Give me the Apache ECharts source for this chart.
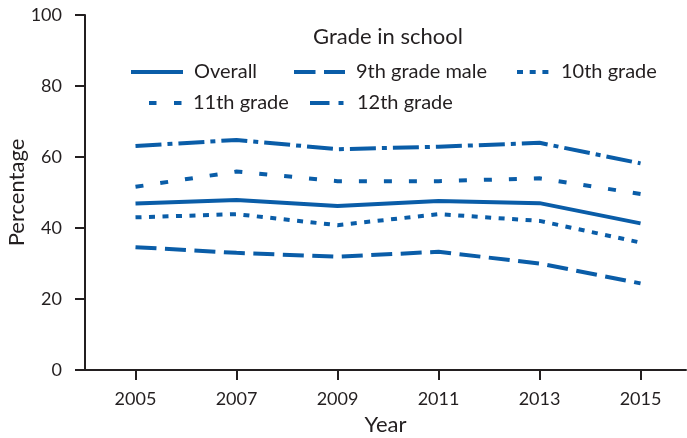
<!DOCTYPE html>
<html><head><meta charset="utf-8">
<script src="https://cdn.jsdelivr.net/npm/echarts@6/dist/echarts.min.js"></script>
<style>html,body{margin:0;padding:0;background:#fff}#c{width:687px;height:438px}</style>
</head><body><div id="c"></div>
<script>
const years = [2005, 2007, 2009, 2011, 2013, 2015];
const yTicks = [0, 20, 40, 60, 80, 100];
const seriesNames = ['Overall', '9th grade male', '10th grade', '11th grade', '12th grade'];
const overall = [46.9, 47.9, 46.2, 47.6, 47.0, 41.3];
const grade9male = [34.6, 33.0, 31.9, 33.3, 30.0, 24.4];
const grade10 = [43.0, 43.9, 40.8, 43.9, 42.0, 35.9];
const grade11 = [51.6, 55.9, 53.2, 53.2, 54.0, 49.6];
const grade12 = [63.1, 64.8, 62.2, 62.9, 64.0, 58.2];

const BLUE = '#0a5da8';
const INK = '#231f20';
const FONT = 'Lato';
const values = [overall, grade9male, grade10, grade11, grade12];
const dashes = ['solid', [21, 8.5], [6, 7.5], [8, 17], [26, 6, 5, 6]];
const legendDashes = ['solid', [21.5, 8.5], [6, 6.7], [7.5, 17.5], [19.5, 9, 5, 9]];

const series = seriesNames.map((n, i) => ({
  name: n, type: 'line', symbol: 'none', showSymbol: false,
  data: years.map((y, j) => [y, values[i][j]]),
  lineStyle: { color: BLUE, width: 4, type: dashes[i], cap: 'butt' },
  itemStyle: { color: BLUE },
  emphasis: { disabled: true }, animation: false
}));

const legPos = [
  { left: 129, top: 62, w: 52, pad: 6 },
  { left: 292, top: 62, w: 51, pad: 6 },
  { left: 515, top: 62, w: 32, pad: 7 },
  { left: 147, top: 93, w: 33, pad: 6 },
  { left: 308, top: 93, w: 34, pad: 8 }
];
const legends = seriesNames.map((n, i) => ({
  data: [n], left: legPos[i].left, top: legPos[i].top, padding: 0,
  itemWidth: legPos[i].w, itemHeight: 20, selectedMode: false,
  itemStyle: { opacity: 0 },
  lineStyle: { color: BLUE, width: 4, type: legendDashes[i], cap: 'butt' },
  textStyle: { fontFamily: FONT, fontSize: 20, color: INK, padding: [0, 0, 0, legPos[i].pad] }
}));

const chart = echarts.init(document.getElementById('c'));
chart.setOption({
  animation: false,
  title: { text: 'Grade in school', left: 388, top: 26, textAlign: 'center', padding: 0,
    textStyle: { fontFamily: FONT, fontSize: 22, fontWeight: 'normal', color: INK } },
  legend: legends,
  grid: { left: 85, right: 1, top: 15, bottom: 68, containLabel: false, outerBoundsMode: 'none' },
  xAxis: {
    type: 'value', min: 2004, max: 2015.9,
    name: 'Year', nameLocation: 'middle', nameGap: 44, nameMoveOverlap: false,
    nameTextStyle: { fontFamily: FONT, fontSize: 22, color: INK },
    axisLine: { show: true, lineStyle: { color: INK, width: 2 } },
    axisTick: { show: true, length: 10, lineStyle: { color: INK, width: 2 }, customValues: years },
    axisLabel: { fontFamily: FONT, fontSize: 18, color: INK, margin: 20, customValues: years,
      formatter: v => String(v) },
    splitLine: { show: false }
  },
  yAxis: {
    type: 'value', min: 0, max: 100, interval: 20,
    name: 'Percentage', nameLocation: 'middle', nameGap: 57, nameRotate: 90, nameMoveOverlap: false,
    nameTextStyle: { fontFamily: FONT, fontSize: 22, color: INK },
    axisLine: { show: true, lineStyle: { color: INK, width: 2 } },
    axisTick: { show: true, length: 10, lineStyle: { color: INK, width: 2 } },
    axisLabel: { fontFamily: FONT, fontSize: 18, color: INK, margin: 23,
      formatter: v => yTicks.includes(v) ? String(v) : '' },
    splitLine: { show: false }
  },
  series: series
});
</script></body></html>
